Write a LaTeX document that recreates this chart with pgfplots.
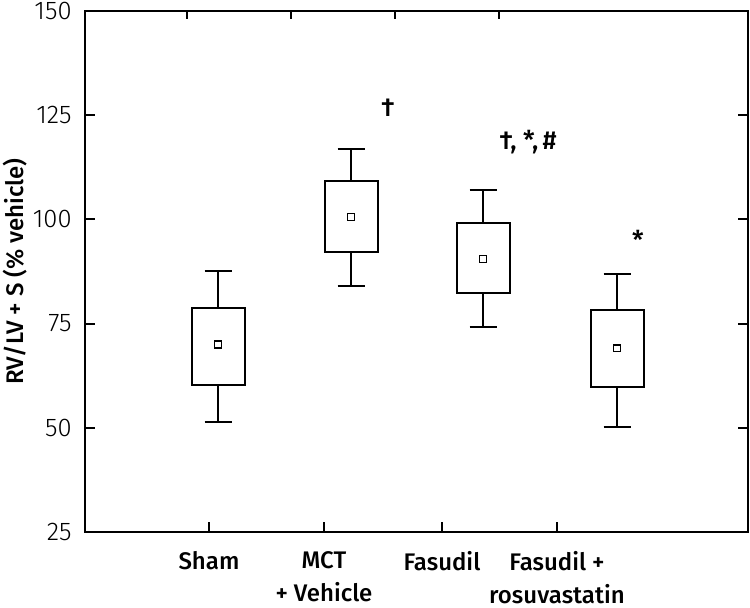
\documentclass[border=0pt]{standalone}
\usepackage{pgfplots}
\pgfplotsset{compat=1.18}
\usepgfplotslibrary{statistics}
\usepackage{fontspec}
\setmainfont{Fira Sans}[BoldFont={Fira Sans Medium}]
\newfontfamily\lightfont{Fira Sans Light}

\begin{document}
\begin{tikzpicture}
\pgfplotsset{
  boxplot/draw direction=y,
}
\begin{axis}[
    width=331.5pt, height=260.5pt, scale only axis,
    xmin=0, xmax=663, ymin=25, ymax=150,
    tick align=inside, major tick length=5pt,
    axis line style={line width=1pt},
    every tick/.style={black, line width=1pt},
    /pgf/number format/assume math mode=true,
    ytick={25,50,...,150},
    xtick={124,239,357,472},
    xticklabels={Sham, {MCT\\+ Vehicle}, Fasudil, {Fasudil +\\rosuvastatin}},
    xtick pos=left,
    ytick pos=both,
    yticklabel style={font=\lightfont\fontsize{12.8}{14}\selectfont, inner sep=0pt, anchor=east, xshift=-6.5pt},
    xticklabel style={font=\bfseries\fontsize{12}{16.5}\selectfont, align=center, inner sep=0pt, anchor=north, yshift=-9.5pt},
    ylabel={\bfseries RV/LV + S (\% vehicle)},
    ylabel style={font=\fontsize{12}{14}\selectfont, at={(axis description cs:-0.1056,0.5)}, anchor=center},
    clip=false,
]
% boxes: whiskers and quartiles (median hidden on the lower edge)
\addplot[black, line width=1pt, boxplot prepared={draw position=133,
    lower whisker=51.3, lower quartile=60.3, median=60.3,
    upper quartile=78.7, upper whisker=87.7, box extend=53, whisker extend=27}]
    coordinates {};
\addplot[black, line width=1pt, boxplot prepared={draw position=266,
    lower whisker=84.1, lower quartile=92.1, median=92.1,
    upper quartile=109.1, upper whisker=116.8, box extend=53, whisker extend=27}]
    coordinates {};
\addplot[black, line width=1pt, boxplot prepared={draw position=398,
    lower whisker=74.3, lower quartile=82.4, median=82.4,
    upper quartile=99.2, upper whisker=107.1, box extend=53, whisker extend=27}]
    coordinates {};
\addplot[black, line width=1pt, boxplot prepared={draw position=532,
    lower whisker=50.3, lower quartile=59.8, median=59.8,
    upper quartile=78.3, upper whisker=86.9, box extend=53, whisker extend=27}]
    coordinates {};
% means
\addplot[only marks, mark=square, mark size=1.7pt, mark options={line width=0.8pt, black}]
    coordinates {(133,70.0)(266,100.6)(398,90.5)(532,69.1)};
% significance marks
\node[font=\bfseries\fontsize{13}{15}\selectfont] at (axis cs:303,126.7) {†};
\node[font=\bfseries\fontsize{13}{15}\selectfont] at (axis cs:443,118.6) {†, *,\,\#};
\node[font=\bfseries\fontsize{13}{15}\selectfont] at (axis cs:553,95) {*};
% short ticks along the top edge
\draw[black, line width=1pt] (axis cs:102,150) -- (axis cs:102,148.1);
\draw[black, line width=1pt] (axis cs:206,150) -- (axis cs:206,148.1);
\draw[black, line width=1pt] (axis cs:310,150) -- (axis cs:310,148.1);
\draw[black, line width=1pt] (axis cs:414,150) -- (axis cs:414,148.1);
\coordinate (bl) at (rel axis cs:0,0);
\coordinate (tr) at (rel axis cs:1,1);
\end{axis}
\pgfresetboundingbox
\path ([shift={(-42.5pt,-37.5pt)}]bl) rectangle ([shift={(1pt,5.5pt)}]tr);
\end{tikzpicture}
\end{document}
